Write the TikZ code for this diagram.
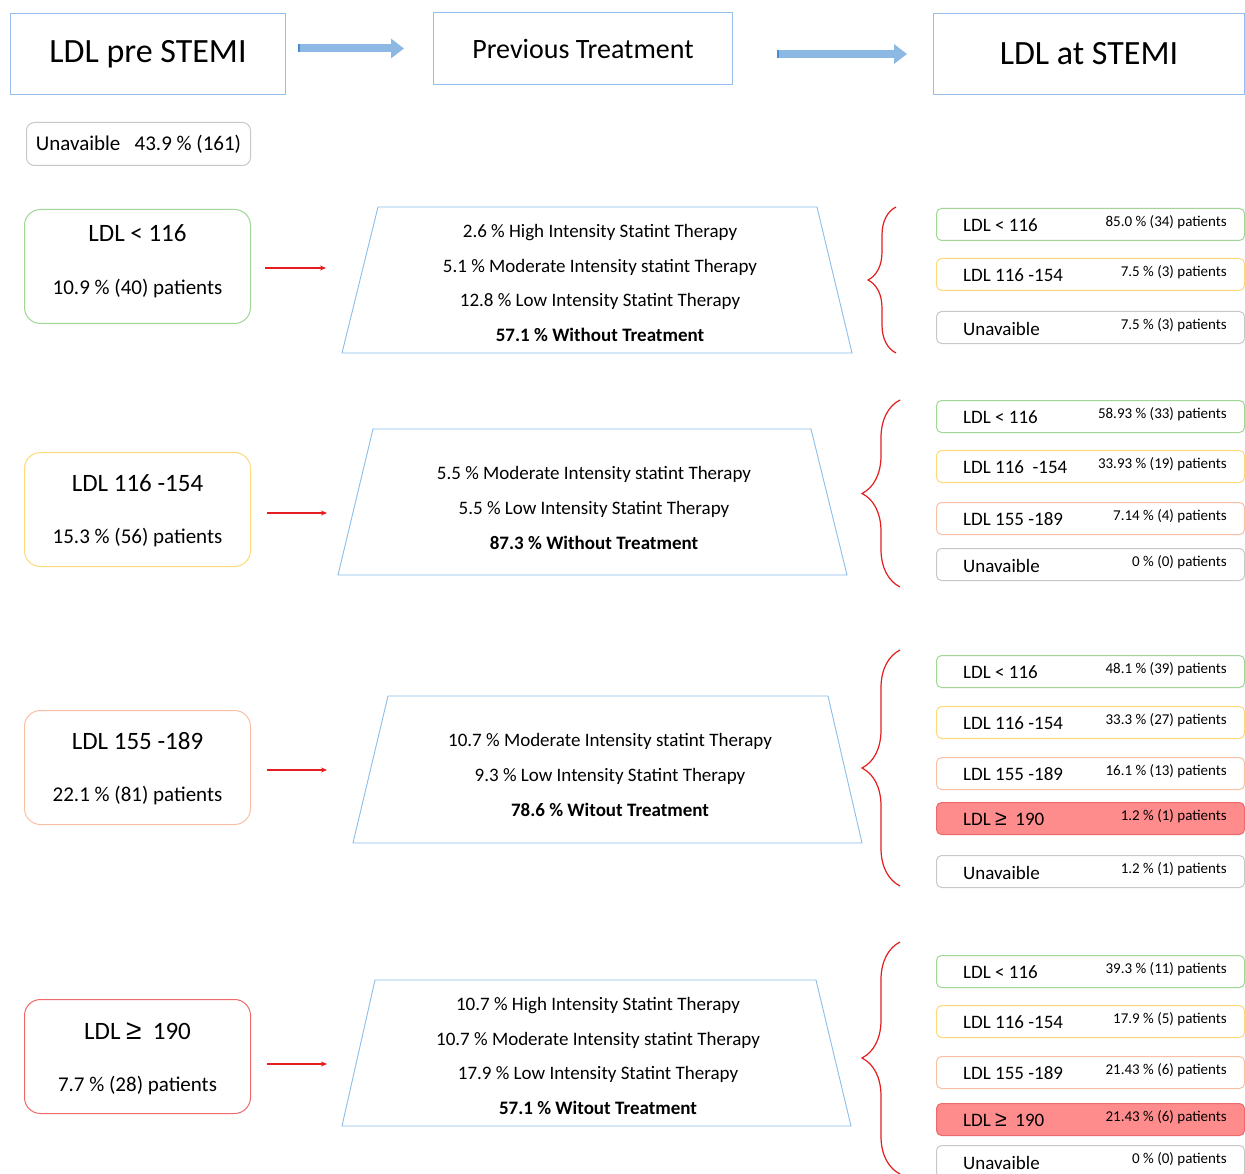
\documentclass[tikz,border=0pt]{standalone}
\usepackage{fontspec}
\setmainfont{Carlito}
\newfontfamily\symf{Liberation Sans}
\usetikzlibrary{arrows.meta,decorations.pathreplacing}
\definecolor{hblue}{RGB}{150,190,235}
\definecolor{tblue}{RGB}{140,190,235}
\definecolor{ablue}{RGB}{140,185,228}
\definecolor{adark}{RGB}{70,140,210}
\definecolor{cgreen}{RGB}{160,215,150}
\definecolor{cyellow}{RGB}{255,218,120}
\definecolor{corange}{RGB}{250,192,165}
\definecolor{cred}{RGB}{238,105,105}
\definecolor{credfill}{RGB}{255,140,140}
\definecolor{cgray}{RGB}{200,200,200}
\definecolor{cbrace}{RGB}{228,30,30}
\newcommand\myfs[1]{\fontsize{#1}{#1}\selectfont}
\newcommand\trapfs{\fontsize{19}{34.6}\selectfont}
\newcommand\GE{{\symf\scalebox{1.12}{≥}}}
\tikzset{
  hdrbox/.style={draw=hblue, line width=1pt, inner sep=0pt, anchor=north west},
  lb/.style={draw=#1, line width=1pt, rounded corners=16pt, inner sep=0pt,
    minimum width=226pt, minimum height=114pt, anchor=north west},
  ltitle/.style={inner sep=0pt, font=\myfs{25}},
  lsub/.style={inner sep=0pt, font=\myfs{21}},
  rb/.style={draw=#1, line width=1pt, rounded corners=5pt, inner sep=0pt,
    minimum width=308pt, minimum height=32pt, anchor=north west},
  rbred/.style={draw=cred, fill=credfill, line width=1pt, rounded corners=5pt, inner sep=0pt,
    minimum width=308pt, minimum height=32pt, anchor=north west},
  rlab/.style={inner sep=0pt, anchor=west, font=\myfs{19}},
  rpct/.style={inner sep=0pt, anchor=east, font=\myfs{15}},
  trapline/.style={draw=tblue, line width=0.9pt, line join=miter},
  traptext/.style={inner sep=0pt, align=center, font=\trapfs},
  redarr/.style={draw=cbrace, line width=1.3pt, -{Stealth[length=6pt,width=5pt]}},
  bigarr/.style={draw=ablue, line width=8pt, -{Triangle[length=13pt,width=19pt]}},
  redbrace/.style={draw=cbrace, line width=1.2pt, decorate,
    decoration={brace, amplitude=#1}},
}
\newcommand\lbox[7]{% name, ytop, color, title, sub, title offset, sub offset
  \node[lb=#3] (#1) at (24,#2) {};
  \node[ltitle] (#1t) at ([yshift=-#6pt]#1.north) {#4};
  \node[lsub] (#1s) at ([yshift=-#7pt]#1.north) {#5};
}
\newcommand\rbx[5]{% name, ytop, style, label, pct
  \node[#3] (#1) at (936,#2) {};
  \node[rlab] (#1l) at ([xshift=27pt,yshift=-1pt]#1.west) {#4};
  \node[rpct] (#1p) at ([xshift=-18pt,yshift=2pt]#1.east) {#5};
}
\begin{document}
\begin{tikzpicture}[x=1pt,y=-1pt]
\useasboundingbox[fill=white] (0,0) rectangle (1245,1174);

% header
\node[hdrbox, minimum width=275pt, minimum height=81pt] (h1) at (10,13) {\myfs{34}LDL pre STEMI};
\node[hdrbox, minimum width=299pt, minimum height=72pt] (h2) at (433,12) {\myfs{28}\raisebox{-2pt}{Previous Treatment}};
\node[hdrbox, minimum width=311pt, minimum height=81pt] (h3) at (933,13) {\myfs{34}LDL at STEMI};
\draw[bigarr, shorten <=12pt, shorten >=29pt] (h1.east |- h2.west) -- (h2.west);
\draw[draw=adark, line width=8pt, shorten <=12pt, shorten >=133pt] (h1.east |- h2.west) -- (h2.west);
\draw[bigarr, shorten <=44pt, shorten >=26pt] (h2.east |- h3.west) -- (h3.west);
\draw[draw=adark, line width=8pt, shorten <=44pt, shorten >=154pt] (h2.east |- h3.west) -- (h3.west);

\node[draw=cgray, line width=1pt, rounded corners=8pt, minimum width=224pt, minimum height=43pt,
  inner sep=0pt, anchor=north west, font=\myfs{21}] (unav) at (26,122) {Unavaible\ \ \ 43.9 \% (161)};

% ---------- row 1
\lbox{l1}{209}{cgreen}{LDL < 116}{10.9 \% (40) patients}{24}{80}
\coordinate (a1) at (326,268);
\draw[redarr, shorten <=14pt] (l1.east |- a1) -- (a1);
\draw[trapline] (378,207) -- (817,207) -- (852,353) -- (342,353) -- cycle;
\node[traptext] (t1) at (600,283) {2.6 \% High Intensity Statint Therapy\\5.1 \% Moderate Intensity statint Therapy\\12.8 \% Low Intensity Statint Therapy\\\textbf{57.1 \% Without Treatment}};
\draw[redbrace=28pt] (896,353) -- (896,207);
\rbx{r1a}{208}{rb=cgreen}{LDL < 116}{85.0 \% (34) patients}
\rbx{r1b}{258}{rb=cyellow}{LDL 116 -154}{7.5 \% (3) patients}
\rbx{r1c}{311}{rb=cgray}{Unavaible}{7.5 \% (3) patients}

% ---------- row 2
\lbox{l2}{452}{cyellow}{LDL 116 -154}{15.3 \% (56) patients}{31}{86}
\coordinate (a2) at (327,513);
\draw[redarr, shorten <=16pt] (l2.east |- a2) -- (a2);
\draw[trapline] (373,429) -- (811,429) -- (847,575) -- (338,575) -- cycle;
\node[traptext] (t2) at (594,508) {5.5 \% Moderate Intensity statint Therapy\\5.5 \% Low Intensity Statint Therapy\\\textbf{87.3 \% Without Treatment}};
\draw[redbrace=38pt] (900,587) -- (900,400);
\rbx{r2a}{400}{rb=cgreen}{LDL < 116}{58.93 \% (33) patients}
\rbx{r2b}{450}{rb=cyellow}{LDL 116 \ -154}{33.93 \% (19) patients}
\rbx{r2c}{502}{rb=corange}{LDL 155 -189}{7.14 \% (4) patients}
\rbx{r2d}{548}{rb=cgray}{Unavaible}{0 \% (0) patients}

% ---------- row 3
\lbox{l3}{710}{corange}{LDL 155 -189}{22.1 \% (81) patients}{31}{86}
\coordinate (a3) at (327,770);
\draw[redarr, shorten <=16pt] (l3.east |- a3) -- (a3);
\draw[trapline] (388,696) -- (828,696) -- (862,843) -- (353,843) -- cycle;
\node[traptext] (t3) at (610,775) {10.7 \% Moderate Intensity statint Therapy\\9.3 \% Low Intensity Statint Therapy\\\textbf{78.6 \% Witout Treatment}};
\draw[redbrace=38pt] (900,886) -- (900,650);
\rbx{r3a}{655}{rb=cgreen}{LDL < 116}{48.1 \% (39) patients}
\rbx{r3b}{706}{rb=cyellow}{LDL 116 -154}{33.3 \% (27) patients}
\rbx{r3c}{757}{rb=corange}{LDL 155 -189}{16.1 \% (13) patients}
\rbx{r3d}{802}{rbred}{LDL \GE\ \ 190}{1.2 \% (1) patients}
\rbx{r3e}{855}{rb=cgray}{Unavaible}{1.2 \% (1) patients}

% ---------- row 4
\lbox{l4}{999}{cred}{LDL \GE\ \ 190}{7.7 \% (28) patients}{32}{87}
\coordinate (a4) at (327,1064);
\draw[redarr, shorten <=16pt] (l4.east |- a4) -- (a4);
\draw[trapline] (375,980) -- (816,980) -- (851,1126) -- (342,1126) -- cycle;
\node[traptext] (t4) at (598,1056) {10.7 \% High Intensity Statint Therapy\\10.7 \% Moderate Intensity statint Therapy\\17.9 \% Low Intensity Statint Therapy\\\textbf{57.1 \% Witout Treatment}};
\draw[redbrace=38pt] (900,1174) -- (900,942);
\rbx{r4a}{955}{rb=cgreen}{LDL < 116}{39.3 \% (11) patients}
\rbx{r4b}{1005}{rb=cyellow}{LDL 116 -154}{17.9 \% (5) patients}
\rbx{r4c}{1056}{rb=corange}{LDL 155 -189}{21.43 \% (6) patients}
\rbx{r4d}{1103}{rbred}{LDL \GE\ \ 190}{21.43 \% (6) patients}
\rbx{r4e}{1145}{rb=cgray}{Unavaible}{0 \% (0) patients}
\end{tikzpicture}
\end{document}
